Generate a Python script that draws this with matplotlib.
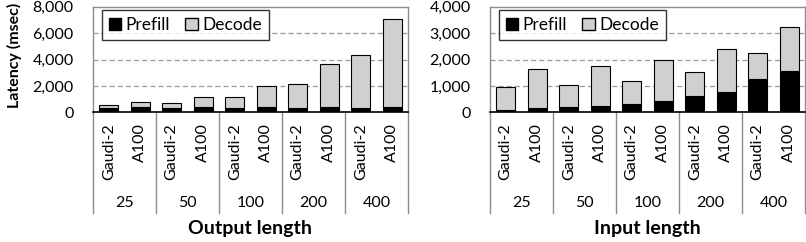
import numpy as np
import matplotlib.pyplot as plt
from matplotlib.patches import Patch

plt.rcParams['font.family'] = ['Lato', 'DejaVu Sans']

# data (msec)
lengths = ["25", "50", "100", "200", "400"]
devices = ["Gaudi-2", "A100"]

# output length sweep
out_prefill = [330, 400, 320, 400, 320, 400, 320, 400, 320, 400]
out_total = [520, 780, 730, 1180, 1180, 2000, 2140, 3660, 4320, 7070]

# input length sweep
in_prefill = [100, 150, 190, 230, 330, 420, 620, 780, 1250, 1550]
in_total = [970, 1650, 1030, 1770, 1200, 1970, 1530, 2390, 2230, 3220]

frame_col = "#8c8c8c"
decode_col = "#d0d0d0"
fs = 11.5


def draw(ax, prefill, total, ymax, step, xtitle):
    prefill = np.array(prefill)
    decode = np.array(total) - prefill
    x = np.arange(len(prefill)) + 0.5

    ax.bar(x, prefill, width=0.6, color="black", edgecolor="black", linewidth=0.8, zorder=3)
    ax.bar(x, decode, bottom=prefill, width=0.6, color=decode_col, edgecolor="black", linewidth=0.8, zorder=3)

    ax.set_xlim(0, len(prefill))
    ax.set_ylim(0, ymax)
    ax.set_yticks(np.arange(0, ymax + 1, step))
    ax.set_yticklabels([f"{v:,}" for v in np.arange(0, ymax + 1, step)], fontsize=fs)
    ax.set_xticks([])
    ax.tick_params(axis="y", length=0, pad=14)

    # dashed gridlines
    for v in np.arange(step, ymax, step):
        ax.axhline(v, color="#999999", linestyle=(0, (4, 2.5)), linewidth=0.9, zorder=1)

    for s in ["left", "top", "right"]:
        ax.spines[s].set_color(frame_col)
        ax.spines[s].set_linewidth(1.0)
    ax.spines["bottom"].set_color("black")
    ax.spines["bottom"].set_linewidth(1.2)
    ax.spines["bottom"].set_zorder(4)

    # multi-level category axis
    trans = ax.get_xaxis_transform()
    for g in range(len(lengths) + 1):
        ax.plot([2 * g, 2 * g], [0, -0.955], transform=trans, color=frame_col,
                linewidth=1.0, clip_on=False)
    for i in range(len(prefill)):
        ax.text(x[i], -0.1, devices[i % 2], transform=trans, rotation=90,
                ha="center", va="top", fontsize=fs)
    for g, lab in enumerate(lengths):
        ax.text(2 * g + 1, -0.86, lab, transform=trans, ha="center", va="center", fontsize=fs)
    ax.text(0.5, -1.10, xtitle, transform=ax.transAxes, ha="center", va="center",
            fontsize=14, fontweight="bold")

    handles = [Patch(facecolor="black", edgecolor="black", label="Prefill"),
               Patch(facecolor=decode_col, edgecolor="black", label="Decode")]
    leg = ax.legend(handles=handles, loc="upper left", bbox_to_anchor=(0.028, 0.97), ncol=2,
                    fontsize=12.5, frameon=True, fancybox=False, handlelength=0.7,
                    handleheight=0.7, handletextpad=0.25, columnspacing=0.9,
                    borderpad=0.4, borderaxespad=0)
    leg.get_frame().set_edgecolor("black")
    leg.get_frame().set_linewidth(1.0)
    leg.set_zorder(5)


fig = plt.figure(figsize=(8.06, 2.42), dpi=100)
W, H = 806, 242
top, bot = 6.7, 112.3
ax1 = fig.add_axes([93 / W, (H - bot) / H, 315 / W, (bot - top) / H])
ax2 = fig.add_axes([490 / W, (H - bot) / H, 315 / W, (bot - top) / H])

draw(ax1, out_prefill, out_total, 8000, 2000, "Output length")
draw(ax2, in_prefill, in_total, 4000, 1000, "Input length")

fig.text(14 / W, 1 - 55 / H, "Latency (msec)", rotation=90, ha="center", va="center",
         fontsize=11.5, fontweight="bold")

fig.savefig("out.png", dpi=100)
